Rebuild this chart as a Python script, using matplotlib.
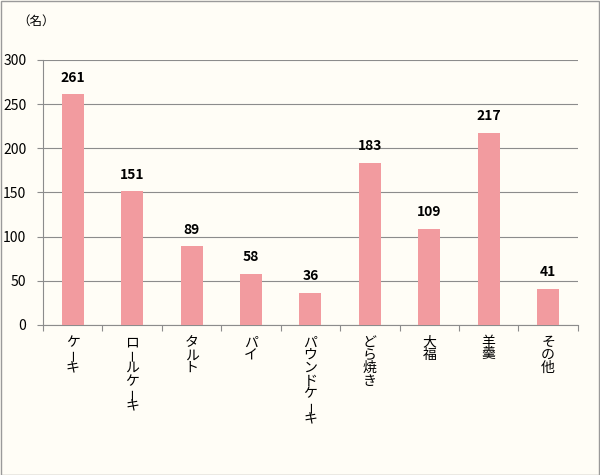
import matplotlib
matplotlib.use("Agg")
import matplotlib.pyplot as plt
from matplotlib.patches import Rectangle
from matplotlib.transforms import offset_copy

plt.rcParams['font.family'] = ['Noto Sans CJK JP', 'DejaVu Sans']

categories = ["ケーキ", "ロールケーキ", "タルト", "パイ", "パウンドケーキ", "どら焼き", "大福", "羊羹", "その他"]
values = [261, 151, 89, 58, 36, 183, 109, 217, 41]
yticks = [0, 50, 100, 150, 200, 250, 300]

bg = "#FFFDF6"
bar_color = "#F29B9F"
grid_color = "#8C8C8C"

fig = plt.figure(figsize=(6, 4.75), dpi=100, facecolor=bg)
fig.patches.append(Rectangle((0.001, 0.001), 0.997, 0.997, transform=fig.transFigure,
                             fill=False, edgecolor="#9A9A9A", linewidth=1.0))
ax = fig.add_axes([0.0717, 0.316, 0.8913, 0.558], facecolor=bg)

x = list(range(len(categories)))
ax.bar(x, values, width=0.37, color=bar_color, zorder=3)
for xi, v in zip(x, values):
    ax.annotate(str(v), (xi, v), xytext=(0, 7), textcoords="offset points",
                ha="center", va="bottom", fontsize=10, fontweight="bold", color="#000000")

ax.set_xlim(-0.5, len(categories) - 0.5)
ax.set_ylim(0, 300)
ax.set_yticks(yticks)
ax.set_yticklabels([str(t) for t in yticks], fontsize=10)
ax.yaxis.grid(True, color=grid_color, linewidth=0.8, zorder=0)
ax.set_axisbelow(True)

ax.set_xticks([i - 0.5 for i in range(len(categories) + 1)])
ax.set_xticklabels([])
ax.tick_params(axis="x", length=4, color=grid_color, width=0.8)
ax.tick_params(axis="y", length=4, color=grid_color, width=0.8, pad=8)

xt = ax.get_xaxis_transform()
step = 9.2  # points per character
for xi, c in zip(x, categories):
    for k, ch in enumerate(c):
        if ch == "ー":
            tr = offset_copy(xt, fig=fig, x=1.0, y=-8 - step * k - step / 2, units="points")
            ax.text(xi, 0, ch, transform=tr, ha="center", va="center", rotation=90,
                    fontsize=9, rotation_mode="anchor")
        else:
            tr = offset_copy(xt, fig=fig, x=0, y=-8 - step * k - step / 2, units="points")
            ax.text(xi, 0, ch, transform=tr, ha="center", va="center", fontsize=10)

for s in ["top", "right"]:
    ax.spines[s].set_visible(False)
for s in ["left", "bottom"]:
    ax.spines[s].set_color(grid_color)
    ax.spines[s].set_linewidth(0.8)

fig.text(0.028, 0.955, "（名）", fontsize=9, ha="left", va="center")

fig.savefig("out.png", dpi=100, facecolor=bg)
